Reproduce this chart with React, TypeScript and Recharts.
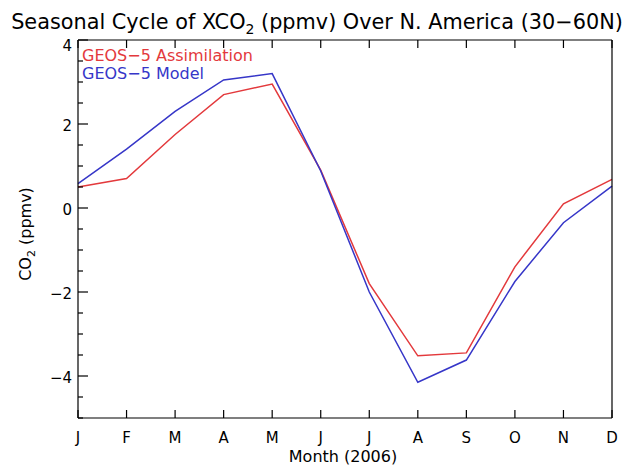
import React from 'react';
import { LineChart, Line, XAxis, YAxis, Customized } from 'recharts';

// Month positions and their one-letter labels
const monthIndex = [0, 1, 2, 3, 4, 5, 6, 7, 8, 9, 10, 11];
const monthLabels = ['J', 'F', 'M', 'A', 'M', 'J', 'J', 'A', 'S', 'O', 'N', 'D'];

// Monthly XCO2 anomalies (ppmv), 2006
const assimilation = [0.5, 0.7, 1.75, 2.7, 2.95, 0.9, -1.8, -3.52, -3.45, -1.4, 0.1, 0.68];
const model = [0.58, 1.4, 2.3, 3.05, 3.2, 0.88, -2.0, -4.15, -3.62, -1.75, -0.35, 0.52];

// Y axis: minor ticks every 0.5, labelled major ticks every 2
const yTicks = [-5, -4.5, -4, -3.5, -3, -2.5, -2, -1.5, -1, -0.5, 0, 0.5, 1, 1.5, 2, 2.5, 3, 3.5, 4];
const yMajorTicks = [-4, -2, 0, 2, 4];

const seriesNames = ['GEOS\u22125 Assimilation', 'GEOS\u22125 Model'];

const RED = '#e3393c';
const BLUE = '#3636c8';
const FONT = '"DejaVu Sans", Verdana, sans-serif';

const data = monthIndex.map((m, i) => ({
  m,
  assimilation: assimilation[i],
  model: model[i],
}));

const fmt = (v: number) => (v < 0 ? `\u2212${Math.abs(v)}` : `${v}`);

const LeftTick = (props: any) => {
  const { x, y, payload } = props;
  const major = yMajorTicks.includes(payload.value);
  const len = major ? 10 : 5;
  // the topmost label sits just inside the frame, below the title
  const isTop = payload.value === yTicks[yTicks.length - 1];
  return (
    <g>
      <line x1={x} x2={x + len} y1={y} y2={y} stroke="#000" strokeWidth={1.2} />
      {major && (
        <text
          x={x - 6}
          y={y + (isTop ? 11 : 7)}
          textAnchor="end"
          fontSize={15}
          fontFamily={FONT}
          fill="#000"
        >
          {fmt(payload.value)}
        </text>
      )}
    </g>
  );
};

const RightTick = (props: any) => {
  const { x, y, payload } = props;
  const major = yMajorTicks.includes(payload.value);
  const len = major ? 10 : 5;
  return <line x1={x} x2={x - len} y1={y} y2={y} stroke="#000" strokeWidth={1.2} />;
};

const BottomTick = (props: any) => {
  const { x, y, payload } = props;
  return (
    <g>
      <line x1={x} x2={x} y1={y} y2={y - 8} stroke="#000" strokeWidth={1.2} />
      <text x={x} y={y + 25} textAnchor="middle" fontSize={15} fontFamily={FONT} fill="#000">
        {monthLabels[payload.value]}
      </text>
    </g>
  );
};

const TopTick = (props: any) => {
  const { x, y } = props;
  return <line x1={x} x2={x} y1={y} y2={y + 8} stroke="#000" strokeWidth={1.2} />;
};

const Annotations = () => (
  <g fontFamily={FONT}>
    <text x={317} y={29} textAnchor="middle" fontSize={20.8} fill="#000">
      Seasonal Cycle of XCO
      <tspan fontSize={14} dy={5}>2</tspan>
      <tspan dy={-5}> (ppmv) Over N. America (30{'\u2212'}60N)</tspan>
    </text>
    <text x={82} y={61} fontSize={16} fill={RED}>{seriesNames[0]}</text>
    <text x={82} y={79} fontSize={16} fill={BLUE}>{seriesNames[1]}</text>
    <text
      x={31}
      y={234}
      transform="rotate(-90 31 234)"
      textAnchor="middle"
      fontSize={16}
      fill="#000"
    >
      CO
      <tspan fontSize={11} dy={4}>2</tspan>
      <tspan dy={-4}> (ppmv)</tspan>
    </text>
    <text x={343} y={462} textAnchor="middle" fontSize={16} fill="#000">
      Month (2006)
    </text>
  </g>
);

export default function App() {
  return (
    <div style={{ position: 'absolute', left: 0, top: 0, background: '#fff' }}>
      <LineChart
        width={633}
        height={468}
        data={data}
        margin={{ top: 30, right: 11, bottom: 0, left: 28 }}
      >
        <XAxis
          xAxisId="bottom"
          dataKey="m"
          type="number"
          domain={[0, 11]}
          ticks={monthIndex}
          interval={0}
          orientation="bottom"
          height={50}
          tickSize={0}
          tickMargin={0}
          tickLine={false}
          axisLine={{ stroke: '#000', strokeWidth: 1.2 }}
          tick={<BottomTick />}
        />
        <XAxis
          xAxisId="top"
          dataKey="m"
          type="number"
          domain={[0, 11]}
          ticks={monthIndex}
          interval={0}
          orientation="top"
          height={10}
          tickSize={0}
          tickMargin={0}
          tickLine={false}
          axisLine={{ stroke: '#000', strokeWidth: 1.2 }}
          tick={<TopTick />}
        />
        <YAxis
          yAxisId="left"
          type="number"
          domain={[-5, 4]}
          ticks={yTicks}
          interval={0}
          width={50}
          tickSize={0}
          tickMargin={0}
          tickLine={false}
          axisLine={{ stroke: '#000', strokeWidth: 1.2 }}
          tick={<LeftTick />}
        />
        <YAxis
          yAxisId="right"
          orientation="right"
          type="number"
          domain={[-5, 4]}
          ticks={yTicks}
          interval={0}
          width={10}
          tickSize={0}
          tickMargin={0}
          tickLine={false}
          axisLine={{ stroke: '#000', strokeWidth: 1.2 }}
          tick={<RightTick />}
        />
        <Line
          xAxisId="bottom"
          yAxisId="left"
          type="linear"
          dataKey="assimilation"
          stroke={RED}
          strokeWidth={1.5}
          dot={false}
          isAnimationActive={false}
        />
        <Line
          xAxisId="bottom"
          yAxisId="left"
          type="linear"
          dataKey="model"
          stroke={BLUE}
          strokeWidth={1.5}
          dot={false}
          isAnimationActive={false}
        />
        <Customized component={Annotations} />
      </LineChart>
    </div>
  );
}
